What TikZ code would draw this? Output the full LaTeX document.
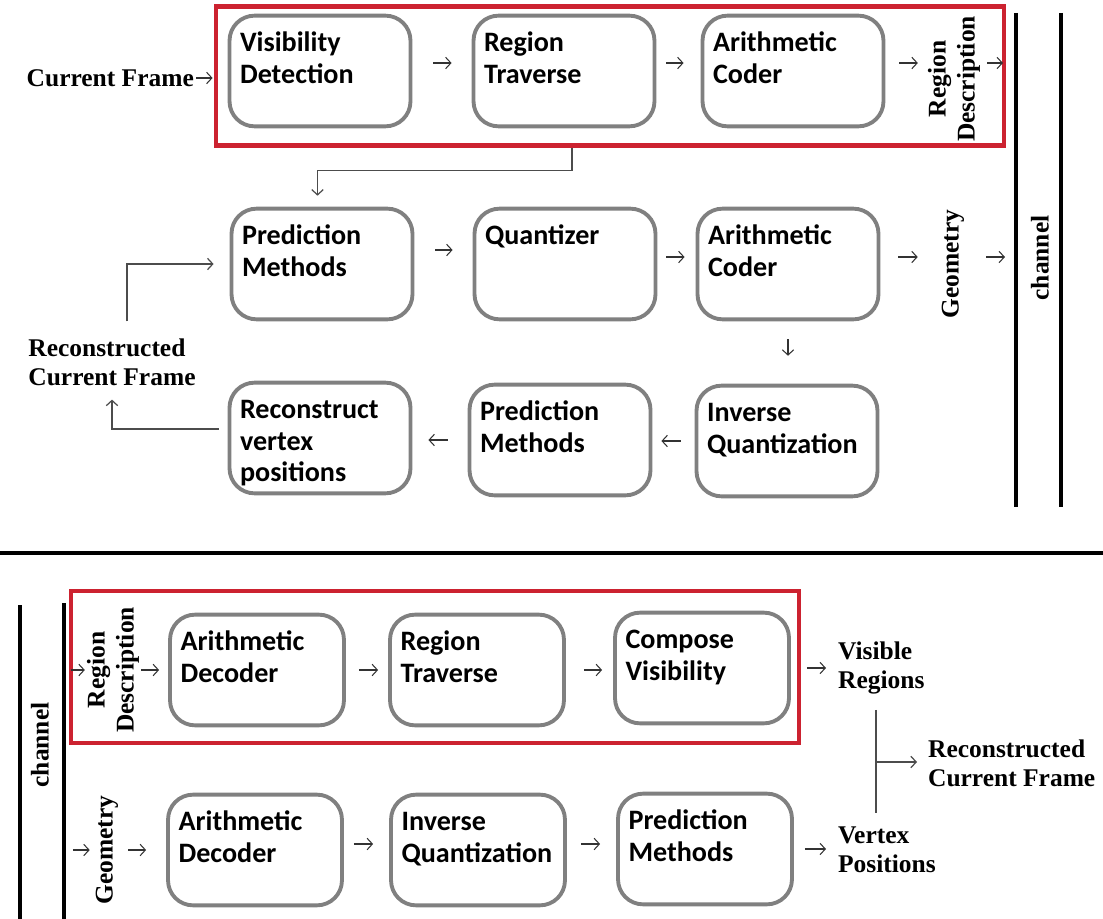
\documentclass[tikz,border=0pt]{standalone}
\usepackage{fontspec}
\setmainfont{Liberation Serif}
\newfontfamily\blkfont{Carlito}
\usetikzlibrary{arrows,arrows.meta,positioning,calc}
\definecolor{grpred}{RGB}{204,34,48}
\definecolor{blkgray}{RGB}{128,128,128}

\begin{document}
\begin{tikzpicture}[
  x=0.02cm, y=-0.02cm,
  >={Straight Barb[length=3pt,width=6.5pt]},
  blk/.style={rectangle, rounded corners=0.5cm, draw=blkgray, line width=2.2pt, inner xsep=6pt, inner ysep=6pt, text width=91pt, text height=14.5pt, text depth=36.5pt, align=left, font=\blkfont\bfseries\fontsize{16}{18}\selectfont},
  dblk/.style={blk, text width=87pt},
  lbl/.style={font=\bfseries\fontsize{14.5}{16.5}\selectfont, align=left, inner sep=1pt},
  vlbl/.style={lbl, rotate=90, align=center},
  grp/.style={rectangle, draw=grpred, line width=2.3pt, inner sep=0pt},
  bar/.style={line width=2.4pt},
  arr/.style={->, black!80, line width=0.6pt},
  farr/.style={->, black!70, line width=0.7pt}]

\useasboundingbox (0,0) rectangle (1103,919);

% encoder
\node[blk] (vd) at (320,71) {Visibility\\Detection};
\node[blk] (rt1) at (564,71) {Region\\Traverse};
\node[blk] (ac1) at (793,71) {Arithmetic\\Coder};
\node[grp, minimum width=15.78cm, minimum height=2.78cm] (enc) at (610,76) {};
\node[lbl, anchor=east] (cf) at (196,78) {Current Frame};
\node[vlbl] (rd1) at (954,79) {Region\\Description};

\node[blk] (pm1) at (322,264) {Prediction\\Methods};
\node[blk] (qz) at (565,264) {Quantizer};
\node[blk] (ac2) at (788,264) {Arithmetic\\Coder};
\node[vlbl] (geo1) at (953,264) {Geometry};

\node[blk] (rv) at (320,438) {Reconstruct\\vertex\\positions};
\node[blk] (pm2) at (560,440) {Prediction\\Methods};
\node[blk] (iq) at (787,441) {Inverse\\Quantization};
\node[lbl] (rcf1) at (112,362) {Reconstructed\\Current Frame};

\coordinate (chA) at (1016,13);
\draw[bar] (chA) -- (1016,507);
\draw[bar] (1061,13) -- (1061,507);
\node[vlbl] (ch1) at (1040,258) {channel};

\draw[arr, shorten >=0.3cm] (cf.east) -- (cf.east -| vd.west);
\draw[arr, transform canvas={yshift=0.16cm}, shorten <=0.42cm, shorten >=0.4cm] (vd) -- (rt1);
\draw[arr, transform canvas={yshift=0.16cm}, shorten <=0.2cm, shorten >=0.34cm] (rt1) -- (ac1);
\draw[arr, transform canvas={yshift=0.16cm}, shorten <=0.28cm, shorten >=0.16cm] (ac1.east) -- (ac1.east -| rd1.north);
\draw[arr, transform canvas={yshift=0.16cm}, shorten <=0.1cm, shorten >=0.26cm] (ac1.east -| rd1.south) -- (ac1.east -| chA);

\draw[arr, transform canvas={yshift=0.28cm}, shorten <=0.42cm, shorten >=0.4cm] (pm1) -- (qz);
\draw[arr, transform canvas={yshift=0.14cm}, shorten <=0.18cm, shorten >=0.22cm] (qz) -- (ac2);
\draw[arr, transform canvas={yshift=0.14cm}, shorten <=0.36cm, shorten >=0.44cm] (ac2) -- (geo1);
\draw[arr, transform canvas={yshift=0.14cm}, shorten <=0.4cm, shorten >=0.22cm] (geo1) -- (geo1 -| chA);
\draw[arr, shorten <=0.36cm, shorten >=0.56cm] (ac2.south) -- (ac2.south |- iq.north);
\draw[arr, shorten <=0.28cm, shorten >=0.18cm] (iq.west) -- (iq.west -| pm2.east);
\draw[arr, shorten <=0.4cm, shorten >=0.32cm] (pm2.west) -- (pm2.west -| rv.east);

% feedback
\draw[farr, shorten >=0.22cm] ($(rt1.south |- enc.south)+(0.16cm,0)$) -- ++(0,-0.46cm) -| ($(pm1.north)+(-0.09cm,0)$);
\draw[farr, shorten <=0.18cm, shorten >=0.24cm] ([yshift=0.18cm]rv.west) -| (rcf1.south);
\draw[farr, shorten <=0.3cm, shorten >=0.32cm] ([xshift=0.3cm]rcf1.north) |- (pm1.west);

\draw[line width=2.8pt] (0,553) -- (1103,553);

% decoder
\coordinate (chB) at (64,603);
\draw[bar] (20,605) -- (20,919);
\draw[bar] (chB) -- (64,919);
\node[vlbl] (ch2) at (40,745) {channel};
\node[grp, minimum width=14.56cm, minimum height=3.04cm] (dec) at (435,667) {};
\node[vlbl] (rd2) at (113,670) {Region\\Description};
\node[dblk] (ad1) at (257,670) {Arithmetic\\Decoder};
\node[dblk] (rt2) at (477,670) {Region\\Traverse};
\node[dblk] (cv) at (702,668) {Compose\\Visibility};
\node[lbl, anchor=west] (vr) at (836,668) {Visible\\Regions};

\node[vlbl] (geo2) at (107,850) {Geometry};
\node[dblk] (ad2) at (255,850) {Arithmetic\\Decoder};
\node[dblk] (iq2) at (478,850) {Inverse\\Quantization};
\node[dblk] (pm3) at (705,849) {Prediction\\Methods};
\node[lbl, anchor=west] (vp) at (836,850) {Vertex\\Positions};
\node[lbl, anchor=west] (rcf2) at (926,763) {Reconstructed\\Current Frame};

\draw[arr, shorten <=0.14cm] (rd2 -| chB) -- (rd2);
\draw[arr, shorten >=0.18cm] (rd2) -- (ad1);
\draw[arr, shorten <=0.26cm, shorten >=0.2cm] (ad1) -- (rt2);
\draw[arr, shorten <=0.36cm, shorten >=0.22cm] (rt2.east) -- (rt2.east -| cv.west);
\draw[arr, shorten <=0.32cm, shorten >=0.2cm] (cv.east) -- (cv.east -| vr.west);
\draw[arr, shorten <=0.18cm, shorten >=0.08cm] (geo2 -| chB) -- (geo2);
\draw[arr, shorten <=0.16cm, shorten >=0.4cm] (geo2) -- (ad2);
\draw[arr, transform canvas={yshift=0.12cm}, shorten <=0.2cm, shorten >=0.32cm] (ad2) -- (iq2);
\draw[arr, transform canvas={yshift=0.12cm}, shorten <=0.28cm, shorten >=0.32cm] (iq2.east) -- (iq2.east -| pm3.west);
\draw[arr, shorten <=0.22cm, shorten >=0.2cm] (pm3.east) -- (pm3.east -| vp.west);

\coordinate (jn) at (876,762);
\draw[black!70, line width=0.7pt, shorten <=0.27cm, shorten >=0.23cm] (jn |- vr.south) -- (jn |- vp.north);
\draw[farr, shorten >=0.18cm] (jn) -- (jn -| rcf2.west);

\end{tikzpicture}
\end{document}
